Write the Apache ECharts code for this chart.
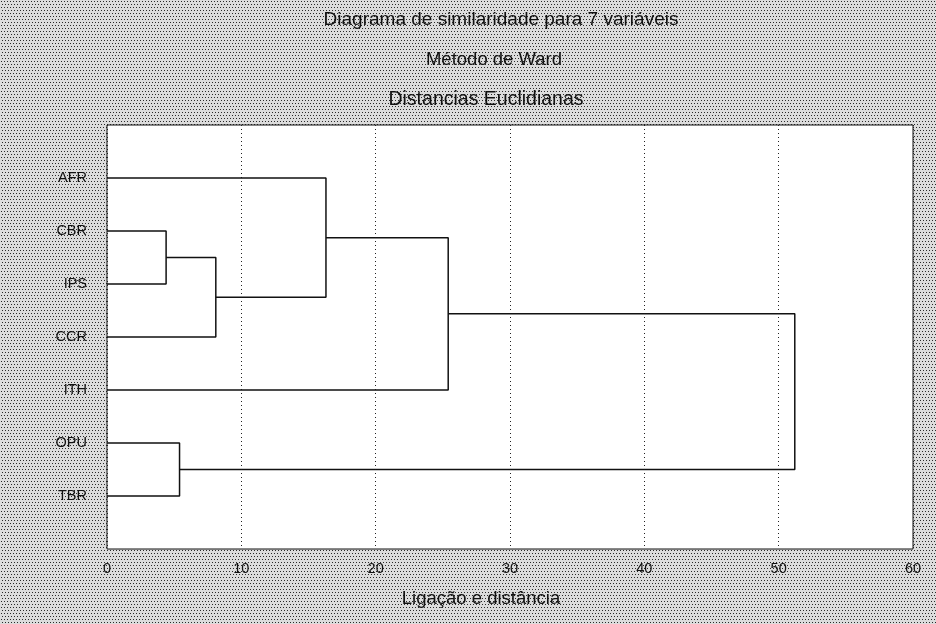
<!DOCTYPE html>
<html>
<head>
<meta charset="utf-8">
<script src="https://cdn.jsdelivr.net/npm/echarts@6/dist/echarts.min.js"></script>
<style>html,body{margin:0;padding:0;background:#fff}#c{width:936px;height:624px}</style>
</head>
<body>
<div id="c"></div>
<script>
// ---- data ----
const leaves = ['AFR', 'CBR', 'IPS', 'CCR', 'ITH', 'OPU', 'TBR'];
// merges: [left node, right node, linkage distance]; nodes: leaf name or 'c#' cluster index
const mergeLeft = ['CBR', 'c0', 'AFR', 'c2', 'OPU', 'c3'];
const mergeRight = ['IPS', 'CCR', 'c1', 'ITH', 'TBR', 'c4'];
const mergeHeight = [4.4, 8.1, 16.3, 25.4, 5.4, 51.2];
const xTicks = [0, 10, 20, 30, 40, 50, 60];
const titles = ['Diagrama de similaridade para 7 variáveis', 'Método de Ward', 'Distancias Euclidianas'];
const xName = 'Ligação e distância';

// ---- build dendrogram segments from merges ----
const nodePos = {};
leaves.forEach((l, i) => { nodePos[l] = { x: 0, y: i + 1 }; });
const series = [];
for (let k = 0; k < mergeHeight.length; k++) {
  const a = nodePos[mergeLeft[k]], b = nodePos[mergeRight[k]], h = mergeHeight[k];
  series.push({
    type: 'line', silent: true, symbol: 'none', animation: false,
    lineStyle: { color: '#111', width: 1.5 },
    data: [[a.x, a.y], [h, a.y], [h, b.y], [b.x, b.y]]
  });
  nodePos['c' + k] = { x: h, y: (a.y + b.y) / 2 };
}

// ---- dotted halftone background pattern ----
const tile = document.createElement('canvas');
tile.width = 6; tile.height = 6;
const tc = tile.getContext('2d');
tc.fillStyle = '#dcdcdc'; tc.fillRect(0, 0, 6, 6);
tc.fillStyle = '#2a2a2a';
[[1,1],[4,1],[2,4],[5,4]].forEach(p => tc.fillRect(p[0], p[1], 1, 1));

const chart = echarts.init(document.getElementById('c'), null, { renderer: 'canvas' });
const titleCenters = [501, 494, 486];
const titleY = [20, 60, 100];
const titleSizes = [19, 18.5, 19.5];
const graphics = [{
  type: 'rect', z: -10, silent: true,
  shape: { x: 0, y: 0, width: 936, height: 624 },
  style: { fill: { image: tile, repeat: 'repeat' } }
}];
titles.forEach((t, i) => graphics.push({
  type: 'text', x: titleCenters[i], y: titleY[i], silent: true,
  style: { text: t, fill: '#111', font: titleSizes[i] + 'px "Liberation Sans", Arial, sans-serif', textAlign: 'center', textVerticalAlign: 'middle' }
}));
graphics.push({
  type: 'text', x: 481, y: 599, silent: true,
  style: { text: xName, fill: '#111', font: '18.5px "Liberation Sans", Arial, sans-serif', textAlign: 'center', textVerticalAlign: 'middle' }
});

chart.setOption({
  backgroundColor: 'transparent',
  animation: false,
  textStyle: { fontFamily: '"Liberation Sans", Arial, sans-serif' },
  graphic: graphics,
  grid: {
    left: 107, right: 23, top: 125, bottom: 75,
    show: true, backgroundColor: '#fff', borderColor: '#111', borderWidth: 1
  },
  xAxis: {
    type: 'value', min: xTicks[0], max: xTicks[xTicks.length - 1], interval: 10,
    axisLine: { show: false }, axisTick: { show: false },
    axisLabel: { color: '#111', fontSize: 14.5, margin: 12 },
    splitLine: { show: true, lineStyle: { color: '#222', type: [1, 3], width: 1 } }
  },
  yAxis: {
    type: 'value', min: 0, max: leaves.length + 1, interval: 1, inverse: true,
    axisLine: { show: false }, axisTick: { show: false }, splitLine: { show: false },
    axisLabel: {
      color: '#111', fontSize: 14.5, margin: 20,
      formatter: v => (v >= 1 && v <= leaves.length) ? leaves[v - 1] : ''
    }
  },
  series: series
});
</script>
</body>
</html>
